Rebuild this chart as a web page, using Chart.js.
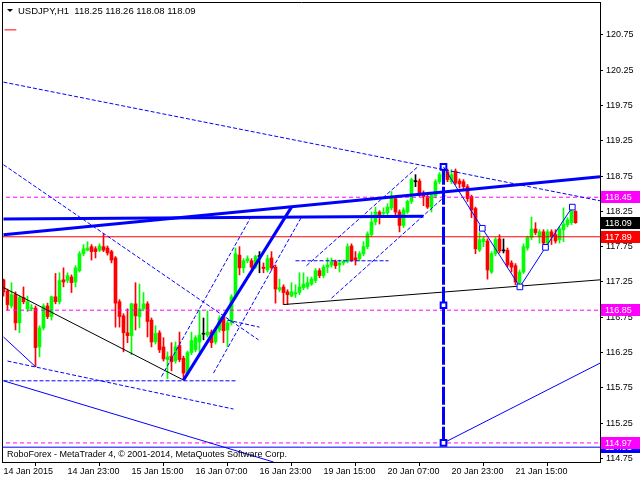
<!DOCTYPE html>
<html><head><meta charset="utf-8">
<script src="https://cdn.jsdelivr.net/npm/chart.js@4/dist/chart.umd.min.js"></script>
<style>html,body{margin:0;padding:0;background:#fff;overflow:hidden}</style>
</head><body>
<canvas id="c" width="640" height="480"></canvas>
<script>
// ---------- DATA ----------
const symbol = 'USDJPY', period = 'H1';
const footerText = 'RoboForex - MetaTrader 4, \u00A9 2001-2014, MetaQuotes Software Corp.';
const timeLabels = ['14 Jan 2015','14 Jan 23:00','15 Jan 15:00','16 Jan 07:00','16 Jan 23:00','19 Jan 15:00','20 Jan 07:00','20 Jan 23:00','21 Jan 15:00'];
const timeTickIdx = [0,16,32,48,64,80,96,112,128];
const priceTicks = [114.75,115.25,115.75,116.25,116.75,117.25,117.75,118.25,118.75,119.25,119.75,120.25,120.75];

const open = [
117.28,117.12,116.91,117.07,116.67,117.03,116.87,116.87,116.88,116.33,
116.60,116.91,116.76,117.04,116.97,117.28,117.27,117.32,117.25,117.41,
117.65,117.70,117.75,117.72,117.70,117.75,117.73,117.68,117.59,116.97,
116.77,116.53,116.49,116.94,116.76,116.87,116.94,116.71,116.40,116.53,
116.33,116.15,116.20,116.13,116.35,116.17,115.96,116.25,116.29,116.40,
116.51,116.50,116.54,116.40,116.57,116.76,116.57,116.67,117.04,117.63,
117.45,117.55,117.55,117.46,117.61,117.46,117.42,117.59,117.46,117.14,
117.18,117.11,117.05,117.08,117.10,117.17,117.18,117.22,117.27,117.41,
117.34,117.46,117.49,117.54,117.49,117.52,117.54,117.76,117.59,117.58,
117.65,117.75,117.92,118.10,118.24,118.22,118.23,118.30,118.43,118.24,
118.05,118.24,118.39,118.67,118.68,118.51,118.46,118.31,118.47,118.67,
118.74,118.81,118.67,118.82,118.68,118.67,118.60,118.46,118.29,117.70,
117.82,117.83,117.39,117.65,117.86,117.69,117.70,117.52,117.48,117.24,
117.39,117.73,117.88,118.00,117.89,117.96,117.80,117.96,117.92,117.85,
117.99,118.06,118.09,118.25];
const high = [
117.29,117.15,117.24,117.11,117.05,117.18,117.05,116.93,116.91,116.63,
116.94,116.95,117.05,117.37,117.38,117.45,117.38,117.35,117.48,117.68,
117.78,117.82,117.78,117.75,117.79,117.93,117.76,117.70,117.61,117.00,
116.80,116.87,116.95,117.24,117.22,117.10,116.97,116.74,116.63,116.56,
116.46,116.26,116.39,116.40,116.54,116.20,116.27,116.54,116.49,116.85,
116.74,116.84,116.57,116.60,116.77,116.78,116.70,117.07,117.73,117.75,
117.58,117.62,117.58,117.63,117.68,117.52,117.63,117.68,117.49,117.29,
117.21,117.14,117.24,117.21,117.38,117.38,117.32,117.32,117.44,117.44,
117.49,117.59,117.59,117.56,117.56,117.56,117.79,117.79,117.68,117.68,
117.82,117.96,118.24,118.31,118.26,118.30,118.36,118.53,118.46,118.27,
118.30,118.41,118.72,118.77,118.71,118.54,118.48,118.51,118.70,118.80,
118.87,118.85,118.84,118.85,118.71,118.70,118.63,118.48,118.31,117.95,
117.89,117.86,117.68,117.88,117.92,117.86,117.73,117.55,117.51,117.42,
117.79,117.90,118.17,118.09,117.99,117.99,117.99,117.99,117.99,118.03,
118.30,118.16,118.33,118.26];
const low = [
117.05,116.85,116.88,116.57,116.53,116.94,116.83,116.84,116.05,116.19,
116.57,116.73,116.71,116.94,116.94,117.18,117.24,117.10,117.18,117.39,
117.62,117.69,117.56,117.59,117.68,117.68,117.63,117.52,116.61,116.61,
116.26,116.39,116.22,116.57,116.60,116.84,116.47,116.33,116.37,116.25,
116.13,115.88,115.99,116.10,116.12,115.86,115.93,116.22,116.26,116.25,
116.43,116.47,116.32,116.37,116.54,116.39,116.33,116.64,117.01,117.35,
117.38,117.52,117.44,117.44,117.38,117.38,117.39,117.42,116.95,117.11,
116.93,116.93,117.04,117.03,117.07,117.14,117.15,117.20,117.24,117.31,
117.31,117.38,117.46,117.44,117.39,117.49,117.52,117.54,117.49,117.55,
117.62,117.72,117.89,118.06,118.07,118.19,118.20,118.27,118.20,117.96,
118.02,118.22,118.36,118.60,118.46,118.33,118.29,118.24,118.44,118.64,
118.71,118.67,118.64,118.63,118.58,118.55,118.39,118.16,117.65,117.68,
117.75,117.29,117.37,117.62,117.66,117.66,117.46,117.39,117.21,117.18,
117.37,117.70,117.85,117.92,117.80,117.78,117.78,117.78,117.80,117.80,
117.82,118.03,118.06,118.08];
const close = [
117.11,116.93,117.07,116.67,117.03,116.97,116.97,116.88,116.32,116.60,
116.91,116.76,117.04,116.97,117.27,117.25,117.34,117.24,117.45,117.65,
117.72,117.73,117.68,117.68,117.76,117.70,117.66,117.56,116.95,116.76,
116.53,116.49,116.94,116.77,116.87,116.94,116.69,116.40,116.52,116.29,
116.16,116.19,116.12,116.33,116.15,115.96,116.25,116.42,116.46,116.50,
116.51,116.54,116.39,116.57,116.74,116.56,116.67,117.04,117.65,117.45,
117.55,117.58,117.46,117.61,117.61,117.44,117.58,117.45,117.15,117.17,
117.10,117.07,117.11,117.10,117.18,117.22,117.24,117.29,117.41,117.34,
117.46,117.49,117.54,117.48,117.52,117.54,117.75,117.56,117.56,117.65,
117.75,117.93,118.10,118.24,118.20,118.23,118.31,118.44,118.24,118.05,
118.27,118.39,118.70,118.67,118.48,118.46,118.31,118.48,118.67,118.77,
118.84,118.70,118.77,118.65,118.64,118.60,118.43,118.27,117.72,117.85,
117.86,117.42,117.65,117.85,117.69,117.69,117.49,117.46,117.25,117.39,
117.75,117.88,118.00,117.95,117.96,117.80,117.96,117.90,117.83,118.00,
118.07,118.13,118.25,118.09];

// trend lines: [barIndex, price] anchors
const lineA  = [[0,120.08],[149.125,118.40]];
const lineB  = [[0,118.91],[63.75,116.43]];
const lineC  = [[56,116.71],[64,116.61]];
const lineG1 = [[39.5,115.91],[61.75,118.16]];
const lineG2 = [[52.5,115.96],[74.5,118.17]];
const lineK1 = [[75.75,117.48],[103.75,118.89]];
const lineK2 = [[82,117.02],[110.5,118.47]];
const lineU  = [[1,116.13],[57.5,115.45]];
const lineI  = [[73,117.55],[96.25,117.55]];
const lineJ  = [[0,115.85],[58.25,115.85]];
const lineD  = [[0,118.14],[105,118.18]];
const lineE  = [[0,117.92],[149.125,118.74]];
const lineF  = [[45,115.86],[72,118.31]];
const lineM  = [[110,114.97],[149.125,116.10]];
const lineS  = [[0,115.85],[67.5,114.70]];
const lineT  = [[0,116.47],[8,116.05]];
const lineO1 = [[0,117.17],[45,115.86]];
const lineO2 = [[70,116.93],[149.125,117.28]];
const lineL  = [[110,118.88],[110,116.92],[110,114.97]];
const zigzag = [[110,118.88],[119.7,118.01],[129.1,117.18],[135.5,117.74],[142.2,118.31]];
const marker = [[0.25,120.82],[3.2,120.82]];

const magentaLevels = [118.45,116.85,114.97];
const redLevel = 117.89;
const blueLevel = 114.91;

const tagPrices = [118.45,118.09,117.89,116.85,114.91,114.97];
const tagFill   = ['#ff00ff','#000000','#ff0000','#ff00ff','#0000ff','#ff00ff'];

// ---------- CHART ----------
const FONT = "'Liberation Sans', Arial, sans-serif";
const GREEN = '#00ff00', RED = '#ff0000', BLACK = '#000000', BLUE = '#0000ff', MAG = '#ff00ff';
const xMin = -0.125, xMax = 149.125, yMin = 114.70, yMax = 121.215;

const idx = open.map((_, i) => i);
const cColors = idx.map(i => close[i] > open[i] ? GREEN : (close[i] < open[i] ? RED : BLACK));
const pts = arr => arr.map(p => ({x: p[0], y: p[1]}));
const hline = v => [{x: xMin - 1, y: v}, {x: xMax + 1, y: v}];

function ln(data, color, width, dash, extra) {
  return Object.assign({type: 'line', data, borderColor: color, borderWidth: width, borderDash: dash || [],
    pointRadius: 0, fill: false, tension: 0, clip: 0, order: 1}, extra || {});
}

const datasets = [];
[lineA, lineB, lineC, lineG1, lineG2, lineK1, lineK2, lineU, lineI, lineJ].forEach(l => datasets.push(ln(pts(l), BLUE, 1, [4,2])));
[lineD, lineE, lineF].forEach(l => datasets.push(ln(pts(l), BLUE, 3)));
[lineM, lineS, lineT].forEach(l => datasets.push(ln(pts(l), BLUE, 1)));
[lineO1, lineO2].forEach(l => datasets.push(ln(pts(l), BLACK, 1)));
datasets.push(ln(pts(marker), RED, 1));
magentaLevels.forEach(v => datasets.push(ln(hline(v), MAG, 1, [4,3], {order: 2})));
datasets.push(ln(hline(redLevel), RED, 1, [], {order: 2}));
datasets.push(ln(hline(blueLevel), BLUE, 1, [], {order: 2}));
datasets.push(ln(pts(zigzag), BLUE, 1, [], {order: 0, pointStyle: 'rect', pointRadius: [0,4,4,4,4],
  pointBorderWidth: 1, pointBorderColor: BLUE, pointBackgroundColor: '#ffffff'}));
datasets.push(ln(pts(lineL), BLUE, 3, [18,2], {order: 0, pointStyle: 'rect', pointRadius: 4,
  pointBorderWidth: 2, pointBorderColor: BLUE, pointBackgroundColor: '#ffffff'}));
datasets.push({type: 'bar', data: idx.map(i => ({x: i, y: [low[i], high[i]]})), backgroundColor: cColors,
  barThickness: 1, grouped: false, borderWidth: 0, clip: 0, order: 20});
datasets.push({type: 'bar', data: idx.map(i => ({x: i, y: [open[i], close[i]]})), backgroundColor: cColors,
  barThickness: 3, minBarLength: 1, grouped: false, borderWidth: 0, clip: 0, order: 19});

const overlay = {
  id: 'overlay',
  afterDraw(chart) {
    const ctx = chart.ctx, a = chart.chartArea, ys = chart.scales.y;
    ctx.save();
    // frame (left / top)
    ctx.strokeStyle = '#000'; ctx.lineWidth = 1;
    ctx.beginPath(); ctx.moveTo(2.5, a.top); ctx.lineTo(2.5, a.bottom + 1);
    ctx.moveTo(2, 2.5); ctx.lineTo(a.right + 1, 2.5); ctx.stroke();
    // title
    const n = open.length - 1;
    ctx.fillStyle = '#000';
    ctx.beginPath(); ctx.moveTo(7, 9); ctx.lineTo(13, 9); ctx.lineTo(10, 12); ctx.closePath(); ctx.fill();
    ctx.font = '9.5px ' + FONT; ctx.textBaseline = 'middle'; ctx.textAlign = 'left';
    ctx.fillText(symbol + ',' + period + '  ' + [open[n], high[n], low[n], close[n]].map(v => v.toFixed(2)).join(' '), 18, 11);
    ctx.font = '9px ' + FONT;
    ctx.fillText(footerText, 7, 455);
    // price tags
    tagPrices.forEach((v, i) => {
      const y = Math.round(ys.getPixelForValue(v));
      ctx.fillStyle = tagFill[i];
      ctx.fillRect(601, y - 6, 39, 12);
      ctx.fillStyle = '#fff';
      ctx.font = '9px ' + FONT;
      ctx.fillText(v.toFixed(2), 605, y + 0.5);
    });
    ctx.restore();
  }
};

new Chart(document.getElementById('c'), {
  type: 'bar',
  data: {datasets},
  options: {
    responsive: false, animation: false, devicePixelRatio: 1,
    layout: {padding: {left: 3, top: 2, right: 0, bottom: 0}, autoPadding: false},
    plugins: {legend: {display: false}, tooltip: {enabled: false}, title: {display: false}},
    scales: {
      x: {
        type: 'linear', min: xMin, max: xMax, offset: false,
        afterBuildTicks: s => { s.ticks = timeTickIdx.map(v => ({value: v})); },
        afterFit: s => { s.height = 18; s.paddingLeft = 0; s.paddingRight = 0; },
        grid: {display: true, drawOnChartArea: false, drawTicks: true, tickLength: 4, color: '#000'},
        border: {display: true, color: '#000'},
        ticks: {autoSkip: false, maxRotation: 0, minRotation: 0, align: 'start', padding: 0, color: '#000',
          font: {family: FONT, size: 9}, callback: (v, i) => timeLabels[i]}
      },
      y: {
        type: 'linear', position: 'right', min: yMin, max: yMax, beginAtZero: false,
        afterBuildTicks: s => { s.ticks = priceTicks.map(v => ({value: v})); },
        afterFit: s => { s.width = 40; s.paddingTop = 0; s.paddingBottom = 0; },
        grid: {display: true, drawOnChartArea: false, drawTicks: true, tickLength: 3, color: '#000'},
        border: {display: true, color: '#000'},
        ticks: {padding: 3, color: '#000', font: {family: FONT, size: 9}, callback: v => v.toFixed(2)}
      }
    }
  },
  plugins: [overlay]
});
</script>
</body></html>
